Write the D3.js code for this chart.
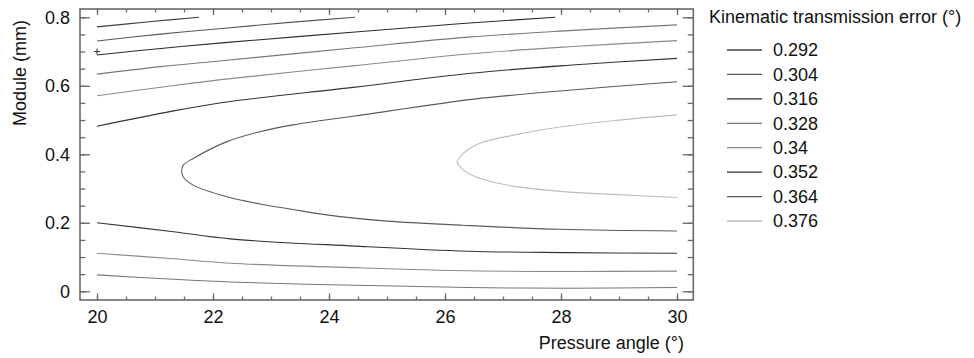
<!DOCTYPE html>
<html>
<head>
<meta charset="utf-8">
<script src="https://cdn.jsdelivr.net/npm/d3@7/dist/d3.min.js"></script>
<style>
  html, body { margin: 0; padding: 0; background: #fff; }
  svg { display: block; font-family: "Liberation Sans", Arial, sans-serif; }
</style>
</head>
<body>
<svg id="chart" width="974" height="358"></svg>
<script>
// Contour levels of the kinematic transmission error (°)
const levels = [0.292, 0.304, 0.316, 0.328, 0.34, 0.352, 0.364, 0.376];
const levelLabels = ["0.292", "0.304", "0.316", "0.328", "0.34", "0.352", "0.364", "0.376"];

// Axis ticks
const xTicks = [20, 22, 24, 26, 28, 30];
const yTicks = [0, 0.2, 0.4, 0.6, 0.8];

// Contour polylines: [pressure angle (°), module (mm)]
const contour292 = [[20, 0.772], [20.9, 0.787], [21.76, 0.8]];
const contour304 = [[20, 0.731], [21.1, 0.751], [22.2, 0.768], [23.38, 0.786], [24.45, 0.8]];
const contour316 = [[20, 0.690], [21.1, 0.709], [22.2, 0.726], [24.45, 0.757], [26.3, 0.782], [27.9, 0.8]];
const contour328Upper = [[20, 0.634], [21.1, 0.656], [22.2, 0.674], [24.45, 0.711], [26.4, 0.742], [28.13, 0.761], [30, 0.778]];
const contour340Upper = [[20, 0.571], [21.2, 0.598], [22.3, 0.621], [24.45, 0.659], [26.4, 0.693], [28.13, 0.714], [30, 0.732]];
const contour352Upper = [[20, 0.482], [21.3, 0.526], [22.3, 0.554], [24.45, 0.596], [26.4, 0.636], [28.13, 0.660], [30, 0.680]];
const contour364 = [[30, 0.612], [28.13, 0.587], [26.5, 0.561], [24.45, 0.512], [23.84, 0.498], [23.38, 0.486],
  [22.81, 0.466], [22.24, 0.437], [21.66, 0.388], [21.49, 0.369], [21.46, 0.351], [21.49, 0.333], [21.66, 0.310],
  [22.24, 0.276], [22.81, 0.255], [23.38, 0.239], [23.84, 0.226], [24.19, 0.218], [25.0, 0.205], [26.3, 0.193],
  [27.98, 0.181], [30, 0.176]];
const contour376 = [[30, 0.515], [28.9, 0.498], [28.04, 0.481], [27.18, 0.456], [26.6, 0.432], [26.32, 0.403],
  [26.21, 0.378], [26.32, 0.354], [26.6, 0.330], [27.18, 0.307], [28.04, 0.291], [28.9, 0.283], [30, 0.274]];
const contour352Lower = [[20, 0.200], [21.32, 0.174], [22.3, 0.153], [24.45, 0.132], [26.4, 0.117], [28.13, 0.113], [30, 0.111]];
const contour340Lower = [[20, 0.111], [21.32, 0.095], [22.3, 0.082], [24.45, 0.069], [26.4, 0.060], [28.13, 0.058], [30, 0.059]];
const contour328Lower = [[20, 0.048], [21.32, 0.035], [22.3, 0.027], [24.45, 0.0175], [26.4, 0.011], [28.13, 0.009], [30, 0.011]];

// Marked design point
const markedPoints = [[20, 0.7]];

// Line colour per level
const levelColors = ["#404040", "#555555", "#2b2b2b", "#777777", "#8a8a8a", "#333333", "#5a5a5a", "#bcbcbc"];

const contourSets = [
  { level: 0.292, paths: [contour292] },
  { level: 0.304, paths: [contour304] },
  { level: 0.316, paths: [contour316] },
  { level: 0.328, paths: [contour328Upper, contour328Lower] },
  { level: 0.34,  paths: [contour340Upper, contour340Lower] },
  { level: 0.352, paths: [contour352Upper, contour352Lower] },
  { level: 0.364, paths: [contour364] },
  { level: 0.376, paths: [contour376] }
];

const svg = d3.select("#chart");
const frame = { left: 80, right: 693.3, top: 9, bottom: 300 };

const x = d3.scaleLinear().domain([20, 30]).range([97, 677]);
const y = d3.scaleLinear().domain([0, 0.8]).range([291.3, 17.3]);

const colorOf = d3.scaleOrdinal().domain(levels).range(levelColors);

// Contour lines
const line = d3.line()
  .x(d => x(d[0]))
  .y(d => y(d[1]))
  .curve(d3.curveCatmullRom.alpha(0.5));

const plot = svg.append("g");
contourSets.forEach(set => {
  set.paths.forEach(p => {
    plot.append("path")
      .attr("d", line(p))
      .attr("fill", "none")
      .attr("stroke", colorOf(set.level))
      .attr("stroke-width", 1.1);
  });
});

// Marked point
plot.selectAll("g.mark").data(markedPoints).join("g")
  .attr("class", "mark")
  .attr("transform", d => `translate(${x(d[0])},${y(d[1])})`)
  .each(function () {
    const g = d3.select(this);
    g.append("line").attr("x1", -3).attr("x2", 3).attr("y1", 0).attr("y2", 0);
    g.append("line").attr("x1", 0).attr("x2", 0).attr("y1", -3).attr("y2", 3);
  })
  .selectAll("line").attr("stroke", "#333").attr("stroke-width", 1);

// Axes with inward ticks on all four sides
const axisColor = "#6a6a6a";
const minorX = d3.range(20, 30.001, 0.5);
const minorY = d3.range(0, 0.8001, 0.05);
const fmtY = d3.format("~g");

function styleAxis(g) {
  g.select(".domain").remove();
  g.selectAll(".tick line").attr("stroke", axisColor).attr("stroke-width", 1.3);
  g.selectAll(".tick text").attr("fill", "#111").style("font-size", "18px")
    .style("font-family", "'Liberation Sans', Arial, sans-serif");
}

svg.append("g").attr("transform", `translate(0,${frame.bottom})`)
  .call(d3.axisBottom(x).tickValues(minorX).tickSizeInner(-3.5).tickSizeOuter(0).tickFormat(""))
  .call(styleAxis);
svg.append("g").attr("transform", `translate(0,${frame.bottom})`)
  .call(d3.axisBottom(x).tickValues(xTicks).tickSizeInner(-6.7).tickSizeOuter(0).tickPadding(10).tickFormat(d3.format("d")))
  .call(styleAxis);

svg.append("g").attr("transform", `translate(0,${frame.top})`)
  .call(d3.axisTop(x).tickValues(minorX).tickSizeInner(-3.5).tickSizeOuter(0).tickFormat(""))
  .call(styleAxis);
svg.append("g").attr("transform", `translate(0,${frame.top})`)
  .call(d3.axisTop(x).tickValues(xTicks).tickSizeInner(-6).tickSizeOuter(0).tickFormat(""))
  .call(styleAxis);

svg.append("g").attr("transform", `translate(${frame.left},0)`)
  .call(d3.axisLeft(y).tickValues(minorY).tickSizeInner(-5.3).tickSizeOuter(0).tickFormat(""))
  .call(styleAxis);
svg.append("g").attr("transform", `translate(${frame.left},0)`)
  .call(d3.axisLeft(y).tickValues(yTicks).tickSizeInner(-10).tickSizeOuter(0).tickPadding(10).tickFormat(fmtY))
  .call(styleAxis);

svg.append("g").attr("transform", `translate(${frame.right},0)`)
  .call(d3.axisRight(y).tickValues(minorY).tickSizeInner(-5.6).tickSizeOuter(0).tickFormat(""))
  .call(styleAxis);
svg.append("g").attr("transform", `translate(${frame.right},0)`)
  .call(d3.axisRight(y).tickValues(yTicks).tickSizeInner(-10.7).tickSizeOuter(0).tickFormat(""))
  .call(styleAxis);

// Plot frame
svg.append("rect")
  .attr("x", frame.left).attr("y", frame.top)
  .attr("width", frame.right - frame.left).attr("height", frame.bottom - frame.top)
  .attr("fill", "none").attr("stroke", axisColor).attr("stroke-width", 1.6);

// Axis titles
svg.append("text")
  .attr("x", 684).attr("y", 349)
  .attr("text-anchor", "end")
  .attr("fill", "#111").style("font-size", "18px")
  .text("Pressure angle (°)");

svg.append("text")
  .attr("transform", "translate(26,73) rotate(-90)")
  .attr("text-anchor", "middle")
  .attr("fill", "#111").style("font-size", "18px")
  .text("Module (mm)");

// Legend
const legend = svg.append("g");
legend.append("text")
  .attr("x", 709).attr("y", 23)
  .attr("fill", "#111").style("font-size", "18px")
  .text("Kinematic transmission error (°)");

const legendY = d3.scalePoint().domain(levels).range([50, 221]);
const items = legend.selectAll("g.item").data(levels).join("g")
  .attr("class", "item")
  .attr("transform", d => `translate(0,${legendY(d)})`);
items.append("line")
  .attr("x1", 727).attr("x2", 762).attr("y1", 0).attr("y2", 0)
  .attr("stroke", d => colorOf(d)).attr("stroke-width", 1.3);
items.append("text")
  .attr("x", 773).attr("y", 0).attr("dy", "0.35em")
  .attr("fill", "#111").style("font-size", "18px")
  .text((d, i) => levelLabels[i]);
</script>
</body>
</html>
